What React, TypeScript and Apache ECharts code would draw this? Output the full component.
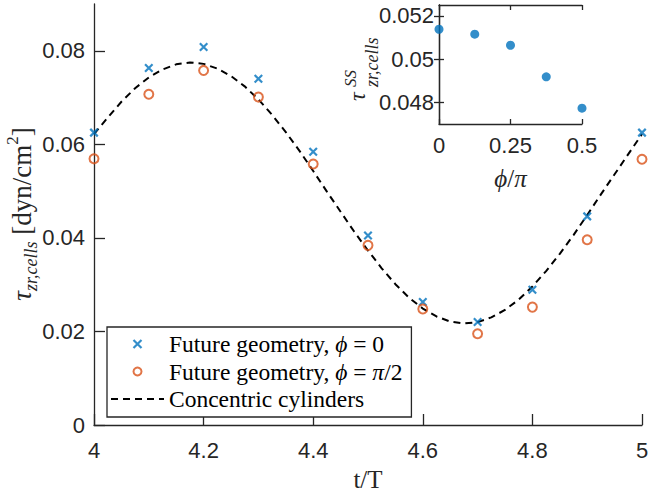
import React, { useEffect, useRef } from "react";
import * as echarts from "echarts";

// ---- data ----
const tSamples = [4, 4.1, 4.2, 4.3, 4.4, 4.5, 4.6, 4.7, 4.8, 4.9, 5];
const tauPhi0 = [0.0625, 0.0763, 0.0808, 0.074, 0.0584, 0.0405, 0.0263, 0.022, 0.0289, 0.0446, 0.0625];
const tauPhiHalfPi = [0.0569, 0.0707, 0.0758, 0.0701, 0.0558, 0.0384, 0.0248, 0.0195, 0.0252, 0.0396, 0.0568];
const curveT = [
  4, 4.025, 4.05, 4.075, 4.1, 4.125, 4.15, 4.175, 4.2, 4.225, 4.25, 4.275, 4.3, 4.325, 4.35, 4.375,
  4.4, 4.425, 4.45, 4.475, 4.5, 4.525, 4.55, 4.575, 4.6, 4.625, 4.65, 4.675, 4.7, 4.725, 4.75, 4.775,
  4.8, 4.825, 4.85, 4.875, 4.9, 4.925, 4.95, 4.975, 5,
];
const curveTau = [
  0.0622, 0.0657, 0.0691, 0.072, 0.0743, 0.076, 0.0771, 0.0775, 0.0772, 0.0762, 0.0746, 0.0724, 0.0696, 0.0663, 0.0626, 0.0586,
  0.0543, 0.0499, 0.0456, 0.0413, 0.0373, 0.0335, 0.0301, 0.0272, 0.0249, 0.0232, 0.0221, 0.0217, 0.022, 0.023, 0.0246, 0.0268,
  0.0296, 0.0329, 0.0366, 0.0406, 0.0449, 0.0493, 0.0536, 0.0579, 0.0622,
];
const phiOverPi = [0, 0.125, 0.25, 0.375, 0.5];
const tauSS = [0.05138, 0.05115, 0.05064, 0.04918, 0.04773];
const mainYTicks = [0, 0.02, 0.04, 0.06, 0.08];
const insetYTicks = [0.048, 0.05, 0.052];

const seriesNames = [
  "Future geometry, ϕ = 0",
  "Future geometry, ϕ = π/2",
  "Concentric cylinders",
];
const legendRich = [
  "{r|Future geometry, }{i|ϕ}{r| = 0}",
  "{r|Future geometry, }{i|ϕ}{r| = }{i|π}{r|/2}",
  "{r|Concentric cylinders}",
];

const BLUE = "#0072BD";
const ORANGE = "#D95319";
const AX = "#262626";
const SANS = "Liberation Sans, Arial, sans-serif";
const SERIF = "Liberation Serif, Times New Roman, serif";
const CROSS = "path://M0,0L10,10M10,0L0,10";

const fmt = (v: number) => String(Number(v.toFixed(4)));

export default function App() {
  const ref = useRef<HTMLDivElement>(null);
  useEffect(() => {
    if (!ref.current) return;
    const chart = echarts.init(ref.current, undefined, { renderer: "svg" });
    const axisLine = { show: true, lineStyle: { color: AX, width: 1.3 } };
    const labelBase = { color: AX, fontSize: 22, fontFamily: SANS };
    const option: any = {
      animation: false,
      backgroundColor: "#fff",
      grid: [
        { left: 94, right: 11, top: 4, bottom: 72 },
        { left: 439, top: 5, width: 143, height: 119 },
      ],
      xAxis: [
        {
          type: "value", gridIndex: 0, min: 4, max: 5, interval: 0.2,
          axisLine, splitLine: { show: false },
          axisTick: { inside: true, length: 11, lineStyle: { color: AX, width: 1.3 } },
          axisLabel: { ...labelBase, margin: 14, formatter: fmt },
          name: "t/T", nameLocation: "middle", nameGap: 42,
          nameTextStyle: { fontFamily: SERIF, fontSize: 25, color: AX },
        },
        {
          type: "value", gridIndex: 1, min: 0, max: 0.5, interval: 0.25,
          axisLine, splitLine: { show: false },
          axisTick: { inside: true, length: 5, lineStyle: { color: AX, width: 1.3 } },
          axisLabel: { ...labelBase, margin: 10, formatter: fmt },
          name: "{i|ϕ}{r|/}{i|π}", nameLocation: "middle", nameGap: 42,
          nameTextStyle: {
            color: AX,
            rich: {
              i: { fontFamily: SERIF, fontStyle: "italic", fontSize: 25, color: AX },
              r: { fontFamily: SERIF, fontSize: 25, color: AX },
            },
          },
        },
        {
          type: "value", gridIndex: 1, position: "top", min: 0, max: 0.5, interval: 0.25,
          axisLine, splitLine: { show: false },
          axisTick: { inside: true, length: 5, lineStyle: { color: AX, width: 1.3 } },
          axisLabel: { show: false },
        },
      ],
      yAxis: [
        {
          type: "value", gridIndex: 0, min: 0, max: 0.09,
          axisLine, splitLine: { show: false },
          axisTick: { inside: true, length: 11, customValues: mainYTicks, lineStyle: { color: AX, width: 1.3 } },
          axisLabel: { ...labelBase, margin: 9, customValues: mainYTicks, formatter: fmt },
        },
        {
          type: "value", gridIndex: 1, min: 0.047, max: 0.0525,
          axisLine, splitLine: { show: false },
          axisTick: { inside: true, length: 5, customValues: insetYTicks, lineStyle: { color: AX, width: 1.3 } },
          axisLabel: { ...labelBase, margin: 5, customValues: insetYTicks, formatter: fmt },
        },
        {
          type: "value", gridIndex: 1, position: "right", min: 0.047, max: 0.0525,
          axisLine, splitLine: { show: false },
          axisTick: { inside: true, length: 5, customValues: insetYTicks, lineStyle: { color: AX, width: 1.3 } },
          axisLabel: { show: false },
        },
      ],
      legend: {
        orient: "vertical", left: 107, top: 327,
        backgroundColor: "#fff", borderColor: AX, borderWidth: 1.3, borderRadius: 0,
        padding: [5, 9, 6, 3], itemGap: 3.5, itemWidth: 53, itemHeight: 8,
        formatter: (name: string) => legendRich[seriesNames.indexOf(name)],
        textStyle: {
          color: "#000", lineHeight: 22,
          rich: {
            r: { fontFamily: SERIF, fontSize: 23.5, color: "#000", lineHeight: 22 },
            i: { fontFamily: SERIF, fontStyle: "italic", fontSize: 23.5, color: "#000", lineHeight: 22 },
          },
        },
        data: [
          { name: seriesNames[0], itemStyle: { color: "transparent", borderColor: BLUE, borderWidth: 2.2 } },
          { name: seriesNames[1], itemStyle: { color: "transparent", borderColor: ORANGE, borderWidth: 2 } },
          { name: seriesNames[2], itemStyle: { color: "transparent", borderColor: "transparent" } },
        ],
      },
      series: [
        {
          name: seriesNames[2], type: "line", xAxisIndex: 0, yAxisIndex: 0,
          data: curveT.map((t, i) => [t, curveTau[i]]),
          smooth: false, symbol: "none",
          lineStyle: { color: "#000", width: 2, type: [7, 5] },
          itemStyle: { color: "#000" }, z: 2,
        },
        {
          name: seriesNames[0], type: "scatter", xAxisIndex: 0, yAxisIndex: 0,
          data: tSamples.map((t, i) => [t, tauPhi0[i]]),
          symbol: CROSS, symbolSize: 7.5,
          itemStyle: { color: "transparent", borderColor: BLUE, borderWidth: 2.2 }, z: 3,
        },
        {
          name: seriesNames[1], type: "scatter", xAxisIndex: 0, yAxisIndex: 0,
          data: tSamples.map((t, i) => [t, tauPhiHalfPi[i]]),
          symbol: "circle", symbolSize: 9,
          itemStyle: { color: "transparent", borderColor: ORANGE, borderWidth: 2 }, z: 3,
        },
        {
          name: "inset", type: "scatter", xAxisIndex: 1, yAxisIndex: 1,
          data: phiOverPi.map((p, i) => [p, tauSS[i]]),
          symbol: "circle", symbolSize: 9,
          itemStyle: { color: BLUE }, z: 3,
        },
      ],
      graphic: [
        {
          type: "text", x: 22, y: 214, rotation: Math.PI / 2,
          style: {
            text: "{t|τ}{s|zr,cells}{r| [dyn/cm}{p|2}{r|]}",
            align: "center", verticalAlign: "middle",
            rich: {
              t: { fontFamily: SERIF, fontStyle: "italic", fontSize: 27, lineHeight: 36, fill: AX },
              s: { fontFamily: SERIF, fontStyle: "italic", fontSize: 18, lineHeight: 17, verticalAlign: "bottom", fill: AX },
              r: { fontFamily: SERIF, fontSize: 27, lineHeight: 36, fill: AX },
              p: { fontFamily: SERIF, fontSize: 17, lineHeight: 17, verticalAlign: "top", fill: AX },
            },
          },
        },
        {
          type: "group", x: 357, y: 101, rotation: Math.PI / 2,
          children: [
            { type: "text", x: 0, y: 0, style: { text: "τ", font: `italic 24px ${SERIF}`, fill: AX, align: "left", verticalAlign: "middle" } },
            { type: "text", x: 14, y: -7, style: { text: "SS", font: `italic 17px ${SERIF}`, fill: AX, align: "left", verticalAlign: "middle" } },
            { type: "text", x: 14, y: 15, style: { text: "zr,cells", font: `italic 18px ${SERIF}`, fill: AX, align: "left", verticalAlign: "middle" } },
          ],
        },
      ],
    };
    chart.setOption(option);
    return () => chart.dispose();
  }, []);
  return <div ref={ref} style={{ width: 653, height: 497, position: "absolute", left: 0, top: 0 }} />;
}
